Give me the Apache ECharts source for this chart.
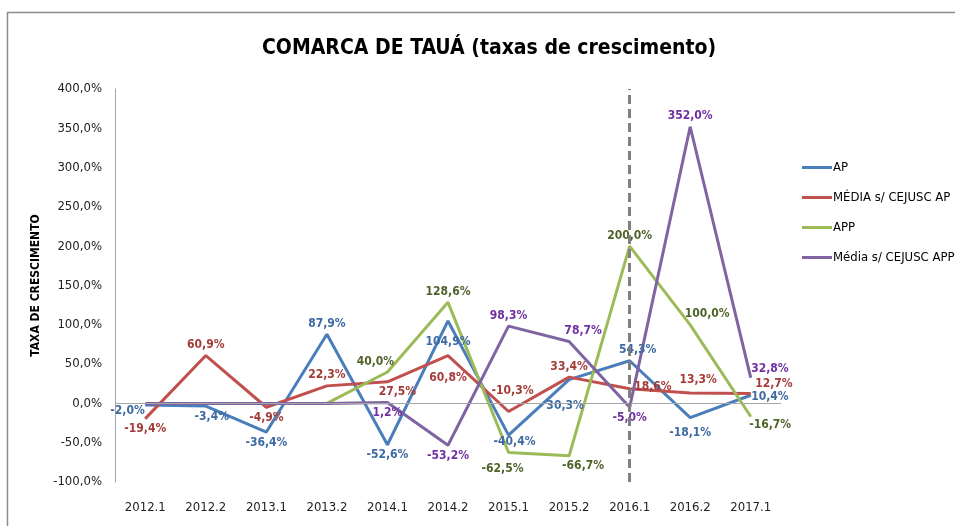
<!DOCTYPE html>
<html>
<head>
<meta charset="utf-8">
<script src="https://cdn.jsdelivr.net/npm/echarts@6/dist/echarts.min.js"></script>
<style>
  html, body { margin: 0; padding: 0; background: #fff; }
  #chart { width: 955px; height: 526px; }
</style>
</head>
<body>
<div id="chart"></div>
<script>
// dados do gráfico
var periodos = ['2012.1', '2012.2', '2013.1', '2013.2', '2014.1', '2014.2', '2015.1', '2015.2', '2016.1', '2016.2', '2017.1']
var serieAP = [-2.0, -3.4, -36.4, 87.9, -52.6, 104.9, -40.4, 30.3, 54.3, -18.1, 10.4]
var serieMediaAP = [-19.4, 60.9, -4.9, 22.3, 27.5, 60.8, -10.3, 33.4, 18.6, 13.3, 12.7]
var serieAPP = [null, null, null, 0, 40.0, 128.6, -62.5, -66.7, 200.0, 100.0, -16.7]
var serieMediaAPP = [0, 0, 0, 0, 1.2, -53.2, 98.3, 78.7, -5.0, 352.0, 32.8]
var nomes = ['AP', 'MÉDIA s/ CEJUSC AP', 'APP', 'Média s/ CEJUSC APP']
var marcoVertical = '2016.1'

// onde fica cada rótulo
var posAP = ['left', 'bottom', 'bottom', 'top', 'bottom', 'bottom', 'bottom', 'bottom', 'top', 'bottom', 'right']
var posMediaAP = ['bottom', 'top', 'bottom', 'top', 'bottom', 'bottom', 'top', 'top', 'right', 'top', 'right']
var posAPP = ['top', 'top', 'top', 'top', 'top', 'top', 'bottom', 'bottom', 'top', 'top', 'right']
var posMediaAPP = ['top', 'top', 'top', 'top', 'bottom', 'bottom', 'top', 'top', 'bottom', 'top', 'right']

var fonte = '"DejaVu Sans Condensed", "Liberation Sans", sans-serif'

function fmt (v) {
  return v.toFixed(1).replace('.', ',') + '%'
}

function montaDados (valores, posicoes, offsets) {
  return valores.map(function (v, i) {
    if (v === null) return null
    var item = { value: v, label: { position: posicoes[i] } }
    if (offsets && offsets[i]) item.label.offset = offsets[i]
    return item
  })
}

function serie (nome, valores, posicoes, corLinha, corRotulo, offsets) {
  return {
    name: nome,
    type: 'line',
    symbol: 'circle',
    symbolSize: 1,
    showAllSymbol: true,
    lineStyle: { color: corLinha, width: 3 },
    itemStyle: { color: corLinha },
    label: {
      show: true,
      color: corRotulo,
      fontFamily: fonte,
      fontWeight: 'bold',
      fontSize: 12,
      distance: 4,
      formatter: function (p) {
        return p.value === 0 ? '' : fmt(p.value)
      }
    },
    data: montaDados(valores, posicoes, offsets)
  }
}

var chart = echarts.init(document.getElementById('chart'))

var seriesAP = serie(nomes[0], serieAP, posAP, '#4a7ebb', '#3d6aa3',
  { 0: [4, 6], 1: [6, 0], 5: [0, 10], 6: [6, -4], 7: [-4, 16], 8: [8, 0], 9: [0, 5], 10: [-4, 2] })
seriesAP.markLine = {
  silent: true,
  symbol: 'none',
  label: { show: false },
  data: [
    { yAxis: 0, lineStyle: { color: '#a6a6a6', width: 1, type: 'solid' } },
    { xAxis: marcoVertical, lineStyle: { color: '#808080', width: 3, type: [9, 5] } }
  ]
}

var option = {
  backgroundColor: '#fff',
  title: {
    text: 'COMARCA DE TAUÁ (taxas de crescimento)',
    left: 257,
    top: 33,
    textStyle: {
      fontFamily: fonte,
      fontSize: 21,
      fontWeight: 'bold',
      color: '#000'
    }
  },
  legend: {
    orient: 'vertical',
    left: 797,
    top: 156,
    itemWidth: 30,
    itemHeight: 3,
    itemGap: 17,
    icon: 'rect',
    data: nomes,
    textStyle: {
      fontFamily: fonte,
      fontSize: 13,
      color: '#000',
      padding: [0, 0, 0, -4]
    }
  },
  grid: {
    left: 115,
    right: 174,
    top: 89,
    bottom: 44
  },
  xAxis: {
    type: 'category',
    data: periodos,
    boundaryGap: true,
    axisLine: { show: false },
    axisTick: { show: false },
    axisLabel: {
      margin: 19,
      fontFamily: fonte,
      fontSize: 13,
      color: '#222'
    }
  },
  yAxis: {
    type: 'value',
    min: -100,
    max: 400,
    interval: 50,
    name: 'TAXA DE CRESCIMENTO',
    nameLocation: 'middle',
    nameGap: 71,
    nameRotate: 90,
    nameTextStyle: {
      fontFamily: fonte,
      fontSize: 12,
      fontWeight: 'bold',
      color: '#000'
    },
    axisLine: { show: true, lineStyle: { color: '#a6a6a6', width: 1 } },
    axisTick: { show: false },
    splitLine: { show: false },
    axisLabel: {
      margin: 13,
      fontFamily: fonte,
      fontSize: 13,
      color: '#222',
      formatter: function (v) { return fmt(v) }
    }
  },
  graphic: [{
    type: 'rect',
    silent: true,
    shape: { x: 7.5, y: 12.5, width: 1000, height: 1000 },
    style: { fill: 'none', stroke: '#8c8c8c', lineWidth: 1.5 }
  }],
  series: [
    seriesAP,
    serie(nomes[1], serieMediaAP, posMediaAP, '#c0504d', '#a33c39',
      { 4: [10, 0], 5: [0, 12], 6: [4, -10], 8: [0, -2], 9: [8, -3], 10: [0, -10] }),
    serie(nomes[2], serieAPP, posAPP, '#9bbb59', '#4f6228',
      { 4: [-12, 0], 6: [-6, 6], 7: [14, 0], 9: [17, 0], 10: [-6, 8] }),
    serie(nomes[3], serieMediaAPP, posMediaAPP, '#8064a2', '#7030a0',
      { 7: [14, 0], 10: [-4, -9] })
  ]
}

chart.setOption(option)
</script>
</body>
</html>
